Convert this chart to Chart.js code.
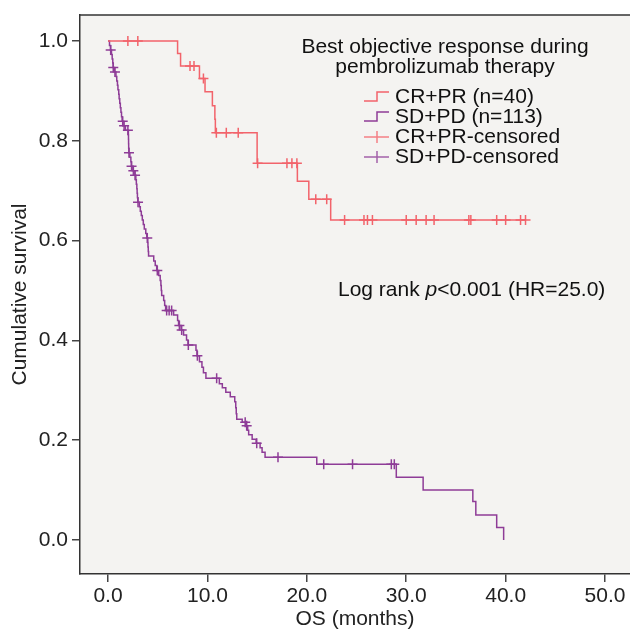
<!DOCTYPE html>
<html>
<head>
<meta charset="utf-8">
<script src="https://cdn.jsdelivr.net/npm/chart.js@4.4.0/dist/chart.umd.min.js"></script>
<style>
  html, body { margin: 0; padding: 0; background: #fff; }
  #km { display: block; }
</style>
</head>
<body>
<canvas id="km" width="630" height="632"></canvas>
<script>
const xTicks = [0, 10, 20, 30, 40, 50];
const yTicks = [0, 0.2, 0.4, 0.6, 0.8, 1.0];

// CR+PR (n=40): time of each drop and survival after it
const crTimes = [0, 7.0, 7.3, 9.2, 9.76, 10.5, 10.75, 10.8, 15.0, 19.05, 20.2, 22.4, 42.0];
const crSurv  = [1.0, 0.975, 0.950, 0.925, 0.898, 0.870, 0.843, 0.816, 0.755, 0.719, 0.683, 0.641, 0.641];
const crCensored = [2.0, 3.0, 8.25, 8.65, 9.6, 10.9, 11.9, 13.1, 15.05, 18.0, 18.5, 19.0, 20.9, 22.0,
  23.8, 25.75, 26.1, 26.6, 30.0, 31.0, 32.0, 32.8, 36.3, 36.5, 39.1, 40.0, 41.5, 42.0];

// SD+PD (n=113)
const sdTimes = [0, 0.15, 0.25, 0.35, 0.42, 0.48, 0.52, 0.65, 0.8, 0.88, 0.95, 1.0, 1.08, 1.12, 1.18, 1.24,
  1.3, 1.36, 1.42, 1.5, 1.75, 2.05, 2.06, 2.07, 2.08, 2.1, 2.2, 2.3, 2.35, 2.5, 2.7, 2.8, 2.85, 2.9, 2.93,
  2.96, 3.0, 3.15, 3.25, 3.35, 3.45, 3.55, 3.65, 3.8, 3.9, 4.0, 4.02, 4.05, 4.08, 4.6, 4.75, 4.9, 5.1,
  5.25, 5.32, 5.36, 5.4, 5.6, 5.7, 5.8, 6.6, 7.0, 7.1, 7.35, 7.6, 7.9, 8.05, 8.85, 8.95, 9.2, 9.45, 9.6,
  9.85, 11.2, 11.5, 11.85, 12.3, 12.75, 12.85, 12.9, 12.95, 13.5, 13.9, 14.05, 14.15, 14.5, 14.9, 15.3,
  15.5, 15.8, 21.0, 29.0, 31.7, 36.7, 37.0, 39.1, 39.8];
const sdSurv = [1.0, 0.991, 0.982, 0.973, 0.964, 0.956, 0.947, 0.938, 0.929, 0.920, 0.911, 0.902, 0.893,
  0.884, 0.875, 0.866, 0.857, 0.848, 0.839, 0.830, 0.821, 0.812, 0.803, 0.794, 0.785, 0.776, 0.767, 0.758,
  0.749, 0.740, 0.731, 0.722, 0.713, 0.704, 0.695, 0.686, 0.677, 0.668, 0.659, 0.650, 0.641, 0.632, 0.623,
  0.614, 0.605, 0.596, 0.587, 0.578, 0.569, 0.559, 0.550, 0.540, 0.530, 0.520, 0.510, 0.500, 0.490, 0.480,
  0.470, 0.460, 0.451, 0.440, 0.430, 0.421, 0.411, 0.401, 0.391, 0.380, 0.369, 0.357, 0.346, 0.335, 0.324,
  0.313, 0.305, 0.296, 0.287, 0.277, 0.265, 0.253, 0.242, 0.236, 0.229, 0.220, 0.211, 0.202, 0.194, 0.185,
  0.176, 0.166, 0.152, 0.126, 0.100, 0.077, 0.050, 0.025, 0.0];
const sdCensored = [0.27, 0.53, 0.70, 1.48, 1.62, 2.0, 2.11, 2.37, 2.55, 2.72, 3.02, 3.95, 4.96, 5.9, 6.15,
  6.4, 7.18, 7.41, 8.08, 8.99, 10.93, 13.8, 13.95, 14.96, 17.1, 21.7, 24.6, 28.5, 28.8];

const RED = '#f2636b';
const PURPLE = '#8e3c97';
const FONT = '"Liberation Sans", Arial, sans-serif';

function survAt(times, surv, t) {
  let s = surv[0];
  for (let i = 0; i < times.length; i++) if (times[i] <= t) s = surv[i];
  return s;
}
const steps = (times, surv) => times.map((t, i) => ({ x: t, y: surv[i] }));
const marks = (cens, times, surv) => cens.map(t => ({ x: t, y: survAt(times, surv, t) }));

const decor = {
  id: 'decor',
  beforeDraw(chart) {
    const { ctx, chartArea: a } = chart;
    ctx.save();
    ctx.fillStyle = '#f4f3f1';
    ctx.fillRect(a.left, a.top, a.right - a.left, a.bottom - a.top);
    ctx.restore();
  },
  afterDraw(chart) {
    const { ctx, chartArea: a } = chart;
    ctx.save();
    ctx.strokeStyle = '#333';
    ctx.lineWidth = 1.5;
    ctx.beginPath();
    ctx.moveTo(a.left, a.top);
    ctx.lineTo(a.right, a.top);
    ctx.stroke();

    ctx.fillStyle = '#111';
    ctx.font = '21px ' + FONT;
    ctx.textBaseline = 'middle';
    ctx.textAlign = 'center';
    ctx.fillText('Best objective response during', 445, 47);
    ctx.fillText('pembrolizumab therapy', 445, 67);

    const rows = [
      { label: 'CR+PR (n=40)', color: RED, kind: 'line', y: 97 },
      { label: 'SD+PD (n=113)', color: PURPLE, kind: 'line', y: 117 },
      { label: 'CR+PR-censored', color: RED, kind: 'mark', y: 137 },
      { label: 'SD+PD-censored', color: PURPLE, kind: 'mark', y: 157 }
    ];
    ctx.textAlign = 'left';
    rows.forEach(r => {
      ctx.strokeStyle = r.color;
      ctx.lineWidth = 1.5;
      ctx.beginPath();
      if (r.kind === 'line') {
        ctx.moveTo(364, r.y + 4);
        ctx.lineTo(377, r.y + 4);
        ctx.lineTo(377, r.y - 5);
        ctx.lineTo(389, r.y - 5);
      } else {
        ctx.globalAlpha = 0.8;
        ctx.moveTo(364, r.y);
        ctx.lineTo(389, r.y);
        ctx.moveTo(377, r.y - 6);
        ctx.lineTo(377, r.y + 6);
      }
      ctx.stroke();
      ctx.globalAlpha = 1;
      ctx.fillStyle = '#111';
      ctx.fillText(r.label, 395, r.y);
    });

    // log rank annotation, p in italics
    let x = 338;
    const y = 290;
    const parts = [['Log rank ', ''], ['p', 'italic '], ['<0.001 (HR=25.0)', '']];
    parts.forEach(([txt, st]) => {
      ctx.font = st + '21px ' + FONT;
      ctx.fillText(txt, x, y);
      x += ctx.measureText(txt).width;
    });
    ctx.restore();
  }
};

const tickFont = { family: FONT, size: 21 };

new Chart(document.getElementById('km'), {
  type: 'scatter',
  data: {
    datasets: [
      { label: 'CR+PR (n=40)', data: steps(crTimes, crSurv), showLine: true, stepped: true,
        borderColor: RED, borderWidth: 1.5, pointRadius: 0 },
      { label: 'SD+PD (n=113)', data: steps(sdTimes, sdSurv), showLine: true, stepped: true,
        borderColor: PURPLE, borderWidth: 1.5, pointRadius: 0 },
      { label: 'CR+PR-censored', data: marks(crCensored, crTimes, crSurv), showLine: false,
        pointStyle: 'cross', pointRadius: 5, borderColor: RED, borderWidth: 1.5 },
      { label: 'SD+PD-censored', data: marks(sdCensored, sdTimes, sdSurv), showLine: false,
        pointStyle: 'cross', pointRadius: 5, borderColor: PURPLE, borderWidth: 1.5 }
    ]
  },
  options: {
    responsive: false,
    animation: false,
    devicePixelRatio: 1,
    layout: { autoPadding: false, padding: { top: 15, right: 0, left: 0, bottom: 0 } },
    plugins: { legend: { display: false }, tooltip: { enabled: false } },
    scales: {
      x: {
        type: 'linear', min: -2.817, max: 52.51,
        afterBuildTicks: s => { s.ticks = xTicks.map(v => ({ value: v })); },
        afterFit: s => { s.height = 58; s.paddingLeft = 0; s.paddingRight = 0; },
        ticks: { callback: v => v.toFixed(1), color: '#222', font: tickFont, padding: 2, maxRotation: 0, autoSkip: false },
        grid: { display: true, drawOnChartArea: false, drawTicks: true, tickLength: 8, color: '#444', lineWidth: 1.5 },
        border: { display: true, color: '#333', width: 1.5 },
        title: { display: true, text: 'OS (months)', color: '#222', font: tickFont, padding: 0 }
      },
      y: {
        type: 'linear', min: -0.0681, max: 1.052,
        afterBuildTicks: s => { s.ticks = yTicks.map(v => ({ value: v })); },
        afterFit: s => { s.width = 80; s.paddingTop = 0; s.paddingBottom = 0; },
        ticks: { callback: v => v.toFixed(1), color: '#222', font: tickFont, padding: 4, autoSkip: false },
        grid: { display: true, drawOnChartArea: false, drawTicks: true, tickLength: 8, color: '#444', lineWidth: 1.5 },
        border: { display: true, color: '#333', width: 1.5 },
        title: { display: true, text: 'Cumulative survival', color: '#222', font: tickFont, padding: { top: 8, bottom: 0 } }
      }
    }
  },
  plugins: [decor]
});
</script>
</body>
</html>
